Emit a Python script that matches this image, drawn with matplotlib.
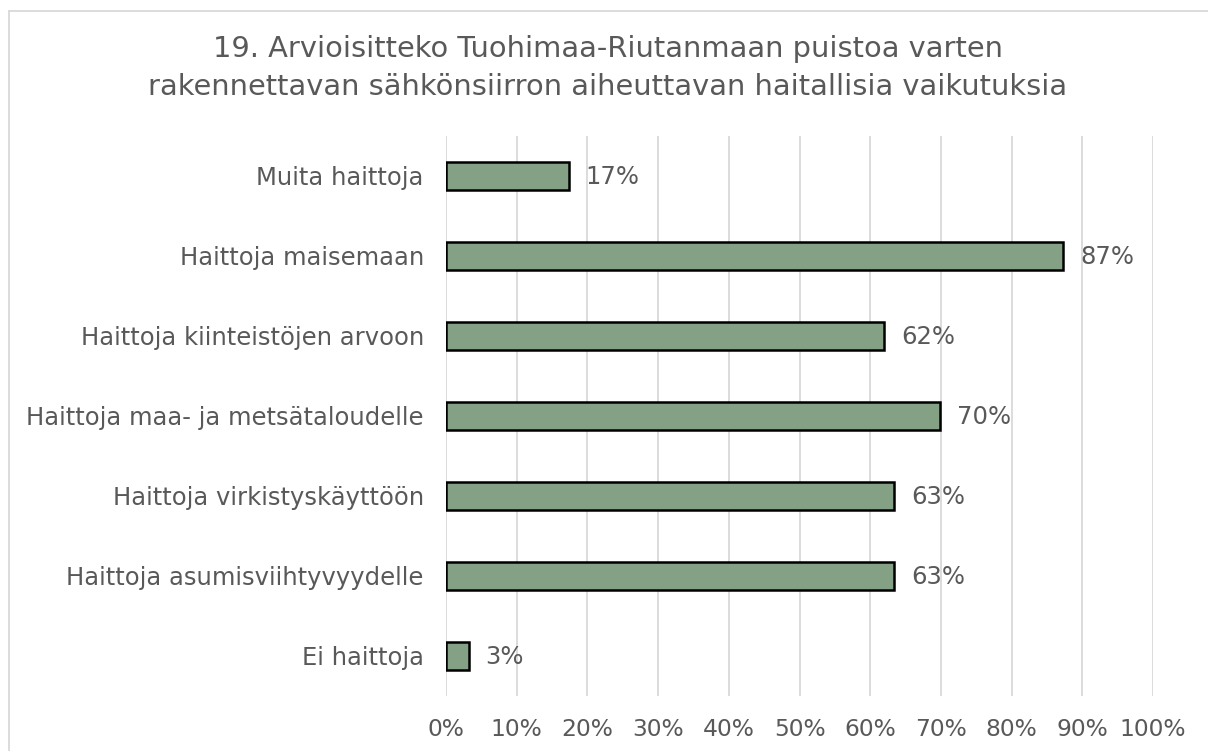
import matplotlib
matplotlib.use("Agg")
import matplotlib.pyplot as plt
from matplotlib.lines import Line2D

categories = [
    "Muita haittoja",
    "Haittoja maisemaan",
    "Haittoja kiinteistöjen arvoon",
    "Haittoja maa- ja metsätaloudelle",
    "Haittoja virkistyskäyttöön",
    "Haittoja asumisviihtyvyydelle",
    "Ei haittoja",
]
values = [17.4, 87.3, 62.0, 69.9, 63.4, 63.4, 3.2]
xticks = [0, 10, 20, 30, 40, 50, 60, 70, 80, 90, 100]
title = "19. Arvioisitteko Tuohimaa-Riutanmaan puistoa varten\nrakennettavan sähkönsiirron aiheuttavan haitallisia vaikutuksia"

TEXT = "#595959"
BAR = "#84A085"
GRID = "#D9D9D9"

plt.rcParams["font.family"] = ["DejaVu Sans"]

fig = plt.figure(figsize=(12.08, 7.51), dpi=100)
ax = fig.add_axes([446 / 1208, 1 - 696 / 751, 707 / 1208, 560 / 751])

ypos = list(range(len(categories)))
ax.barh(ypos, values, height=0.36, color=BAR, edgecolor="black", linewidth=1.8, zorder=3)
ax.set_ylim(len(categories) - 0.5, -0.5)
ax.set_xlim(0, 100)
ax.set_yticks(ypos)
ax.set_yticklabels(categories, fontsize=17.5, color=TEXT)
ax.set_xticks(xticks)
ax.set_xticklabels([f"{t}%" for t in xticks], fontsize=16.8, color=TEXT)
ax.tick_params(axis="both", length=0)
ax.tick_params(axis="y", pad=16)
ax.tick_params(axis="x", pad=16)
ax.grid(axis="x", color=GRID, linewidth=1.3, zorder=0)
for s in ax.spines.values():
    s.set_visible(False)

for y, v in zip(ypos, values):
    ax.annotate(f"{round(v)}%", xy=(v, y), xytext=(12, -1), textcoords="offset points",
                va="center", ha="left", fontsize=17.5, color=TEXT)

fig.text(0.503, 1 - 68 / 751, title, ha="center", va="center", fontsize=20.8,
         color=TEXT, linespacing=1.48)

fig.add_artist(Line2D([9 / 1208, 1.0], [1 - 11 / 751, 1 - 11 / 751], color=GRID, linewidth=1.3))
fig.add_artist(Line2D([9 / 1208, 9 / 1208], [0, 1 - 11 / 751], color=GRID, linewidth=1.3))

fig.savefig("out.png", dpi=100)
